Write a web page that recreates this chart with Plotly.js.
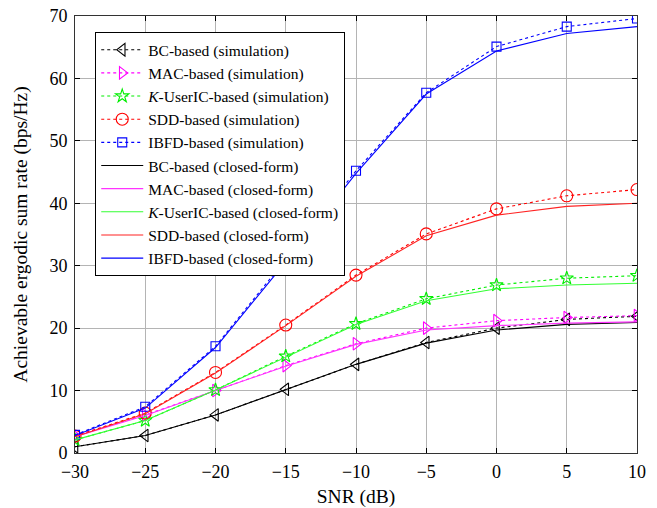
<!DOCTYPE html>
<html>
<head>
<meta charset="utf-8">
<script src="https://cdn.plot.ly/plotly-3.0.1.min.js"></script>
<style>html,body{margin:0;padding:0;background:#fff;}#chart{width:657px;height:508px;}</style>
</head>
<body>
<div id="chart"></div>
<script>
const snr = [-30, -25, -20, -15, -10, -5, 0, 5, 10];
const bcSim   = [1.0, 2.8, 6.1, 10.2, 14.2, 17.7, 20.0, 21.4, 21.9];
const macSim  = [2.8, 6.1, 10.0, 14.0, 17.5, 20.0, 21.2, 21.7, 22.0];
const kSim    = [2.1, 5.2, 10.1, 15.5, 20.7, 24.7, 26.9, 28.0, 28.4];
const sddSim  = [2.7, 6.4, 12.9, 20.5, 28.5, 35.1, 39.1, 41.2, 42.2];
const ibfdSim = [2.9, 7.4, 17.1, 31.0, 45.2, 57.7, 65.1, 68.3, 69.6];
const bcCF    = [1.0, 2.8, 6.1, 10.2, 14.2, 17.6, 19.7, 20.6, 20.9];
const macCF   = [2.6, 6.0, 10.0, 13.9, 17.4, 19.7, 20.4, 20.8, 21.0];
const kCF     = [2.1, 5.2, 10.1, 15.4, 20.6, 24.4, 26.3, 26.9, 27.2];
const sddCF   = [2.6, 6.3, 12.8, 20.4, 28.3, 34.8, 38.1, 39.5, 40.0];
const ibfdCF  = [2.8, 7.2, 16.9, 30.6, 44.8, 57.5, 64.4, 67.2, 68.3];
const xTicks = [-30, -25, -20, -15, -10, -5, 0, 5, 10];
const yTicks = [0, 10, 20, 30, 40, 50, 60, 70];

const names = ['BC-based', 'MAC-based', '<i>K</i>-UserIC-based', 'SDD-based', 'IBFD-based'];
const colors = ['#000000', '#ff00ff', '#00ee00', '#ff0000', '#0000ff'];
const cfColors = ['#000000', '#ff33ff', '#33ff33', '#ff2222', '#0000ff'];
const symbols = ['triangle-left-open', 'triangle-right-open', 'star-open', 'circle-open', 'square-open'];
const sizes = [11, 11, 10, 12, 9];
const sims = [bcSim, macSim, kSim, sddSim, ibfdSim];
const cfs = [bcCF, macCF, kCF, sddCF, ibfdCF];
const FONT = 'Liberation Serif';

const traces = [];
for (let i = 0; i < 5; i++) {
  traces.push({
    x: snr, y: sims[i], type: 'scatter', mode: 'lines+markers',
    name: names[i] + ' (simulation)',
    line: {color: colors[i], width: 1.1, dash: 'dot'},
    marker: {symbol: symbols[i], size: sizes[i], color: colors[i], line: {width: 1.1, color: colors[i]}}
  });
}
for (let i = 0; i < 5; i++) {
  traces.push({
    x: snr, y: cfs[i], type: 'scatter', mode: 'lines',
    name: names[i] + ' (closed-form)',
    line: {color: cfColors[i], width: 1.1}
  });
}

const layout = {
  width: 657, height: 508,
  margin: {l: 75, r: 20, t: 16, b: 55},
  paper_bgcolor: '#ffffff', plot_bgcolor: '#ffffff',
  font: {family: FONT, size: 17, color: '#000'},
  showlegend: true,
  legend: {
    x: 0.036, y: 0.963, xanchor: 'left', yanchor: 'top',
    bgcolor: '#ffffff', bordercolor: '#000000', borderwidth: 1,
    itemwidth: 42,
    font: {family: FONT, size: 15.5, color: '#000'}
  },
  xaxis: {
    range: [-30, 10], tickvals: xTicks, ticks: 'inside', ticklen: 5, tickcolor: '#000',
    showgrid: true, gridcolor: '#b4b4b4', gridwidth: 1,
    showline: true, linecolor: '#333', linewidth: 1, mirror: 'ticks',
    zeroline: false, ticklabelstandoff: 2,
    tickfont: {family: FONT, size: 18, color: '#000'},
    title: {text: 'SNR (dB)', font: {family: FONT, size: 19.5, color: '#000'}, standoff: 9}
  },
  yaxis: {
    range: [0, 70], tickvals: yTicks, ticks: 'inside', ticklen: 5, tickcolor: '#000',
    showgrid: true, gridcolor: '#b4b4b4', gridwidth: 1,
    showline: true, linecolor: '#333', linewidth: 1, mirror: 'ticks',
    zeroline: false, ticklabelstandoff: 3,
    tickfont: {family: FONT, size: 18, color: '#000'},
    title: {text: 'Achievable ergodic sum rate (bps/Hz)', font: {family: FONT, size: 19.5, color: '#000'}, standoff: 16}
  }
};

Plotly.newPlot('chart', traces, layout, {displayModeBar: false});
</script>
</body>
</html>
